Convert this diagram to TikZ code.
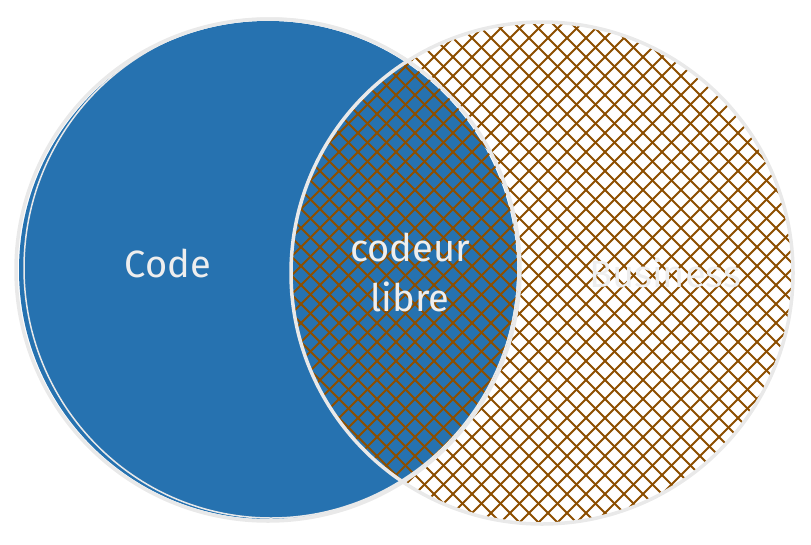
\documentclass[tikz,border=0pt]{standalone}
\usepackage{fontspec}
\setmainfont{Fira Sans}
\usepackage{xcolor}
\usetikzlibrary{calc}
\definecolor{CodeBlue}{RGB}{38,114,176}
\definecolor{HatchBrown}{RGB}{140,78,0}
\definecolor{RimGray}{RGB}{233,233,233}
\definecolor{InkWhite}{RGB}{238,238,238}

\begin{document}
\begin{tikzpicture}[
  x=1pt,y=-1pt,
  rim/.style={draw=RimGray,line width=3.5pt},
  hatch/.style={draw=HatchBrown,line width=1.8pt},
  tag/.style={text=InkWhite,align=center,font=\fontsize{38}{50}\selectfont}
]
\useasboundingbox (0,0) rectangle (811,544);
\coordinate (codeC) at (268,270);
\coordinate (bizC) at (542,273);
% code set
\fill[CodeBlue] (codeC) ellipse [x radius=249,y radius=249];
% business set, cross-hatched
\begin{scope}
  \clip (bizC) circle [radius=250];
  \foreach \k in {-250,-231,...,1340} {
    \draw[hatch] (\k,0) -- (\k+600,600);
    \draw[hatch] (\k,0) -- (\k-600,600);
  }
\end{scope}
% sketchy rims
\draw[rim] (codeC) ellipse [x radius=252,y radius=251];
\draw[rim,line width=1.5pt] ($(codeC)+(3,-2)$) ellipse [x radius=247,y radius=250];
\draw[rim] (bizC) circle [radius=251];
% texts
\node[tag] (code) at (168,263) {Code};
\node[tag] (libre) at (410,272) {codeur\\libre};
\node[tag] (biz) at (665,273) {Business};
\end{tikzpicture}
\end{document}
